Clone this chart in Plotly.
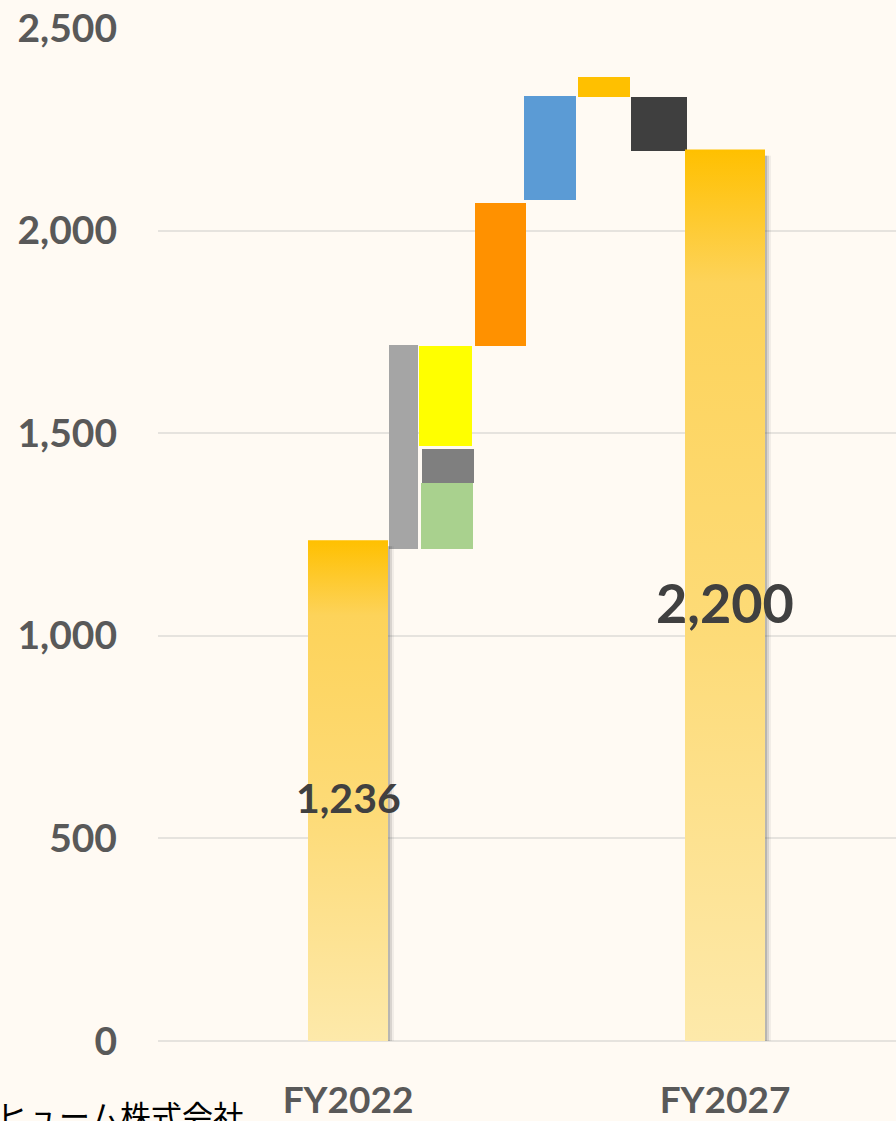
"""Bridge chart: FY2022 -> FY2027 with floating component bars."""

import plotly.graph_objects as go

# ---- data ----
totals_labels = ["FY2022", "FY2027"]
totals_values = [1236, 2200]
totals_text = ["1,236", "2,200"]

step_bottoms = [1214, 1214, 1377, 1468, 1714, 2076, 2330, 2197]
step_tops = [1717, 1377, 1461, 1714, 2067, 2332, 2379, 2330]
step_colors = ["#a5a5a5", "#a9d18e", "#7f7f7f", "#ffff00",
               "#ff9100", "#5b9bd5", "#ffc000", "#3f3f3f"]

y_ticks = [0, 500, 1000, 1500, 2000, 2500]
y_tick_text = ["0", "500", "1,000", "1,500", "2,000", "2,500"]

footer = "ヒューム株式会社"

# ---- layout constants (x axis in plot pixels) ----
total_x = [190, 567]
total_w = 80
step_x = [245.5, 289, 290, 287.5, 342.5, 392, 446, 501]
step_w = [29, 52, 52, 53, 51, 52, 52, 56]
label_sizes = [41, 54]

BG = "#fffaf3"
GRAD = [[0, "#fde9aa"], [0.45, "#fddb78"], [0.85, "#fdd35a"], [1, "#ffc000"]]

fig = go.Figure()

# total bars with vertical gradient and soft right shadow
for x, v, txt, fs in zip(total_x, totals_values, totals_text, label_sizes):
    l, r = x - total_w / 2, x + total_w / 2
    for off, a in [(2, 0.25), (4, 0.16), (6, 0.08)]:
        fig.add_trace(go.Scatter(
            x=[r, r + off, r + off, r, r], y=[0, 0, v - 15, v - 15, 0],
            fill="toself", fillcolor=f"rgba(90,90,90,{a})",
            mode="none", hoverinfo="skip", showlegend=False,
        ))
    fig.add_trace(go.Scatter(
        x=[l, r, r, l, l], y=[0, 0, v, v, 0],
        fill="toself", mode="none",
        fillgradient=dict(type="vertical", colorscale=GRAD),
        showlegend=False,
    ))
    fig.add_annotation(
        x=x, y=v / 2, text=txt, showarrow=False, yshift=-7,
        font=dict(family="Lato", size=fs, color="#404040", weight="bold"),
    )

# floating component bars
fig.add_trace(go.Bar(
    x=step_x,
    y=[t - b for t, b in zip(step_tops, step_bottoms)],
    base=step_bottoms,
    width=step_w,
    marker=dict(color=step_colors, line=dict(width=0)),
    showlegend=False,
))

fig.add_annotation(
    text=footer, xref="paper", yref="paper",
    x=(246 - 158) / 738, y=-0.073, xanchor="right", yanchor="middle",
    showarrow=False,
    font=dict(family="Noto Sans CJK JP", size=31, color="#000000"),
)

fig.update_layout(
    width=896, height=1121,
    margin=dict(l=158, r=0, t=28, b=78),
    paper_bgcolor=BG, plot_bgcolor=BG,
    bargap=0,
    xaxis=dict(
        range=[0, 738], showgrid=False, zeroline=False,
        tickvals=total_x, ticktext=totals_labels,
        ticks="", ticklabelstandoff=34,
        tickfont=dict(family="Lato", size=37, color="#595959", weight="bold"),
    ),
    yaxis=dict(
        range=[0, 2500], tickvals=y_ticks, ticktext=y_tick_text,
        showgrid=True, gridcolor="#e6e3de", gridwidth=2,
        zeroline=True, zerolinecolor="#e6e3de", zerolinewidth=2,
        ticks="", ticklabelstandoff=40,
        tickfont=dict(family="Lato", size=39, color="#595959", weight="bold"),
    ),
)

fig.write_html(
    "out.html",
    config={"displayModeBar": False},
    post_script="document.body.style.margin='0';"
                f"document.body.style.background='{BG}';"
                "document.body.style.overflow='hidden';",
)
